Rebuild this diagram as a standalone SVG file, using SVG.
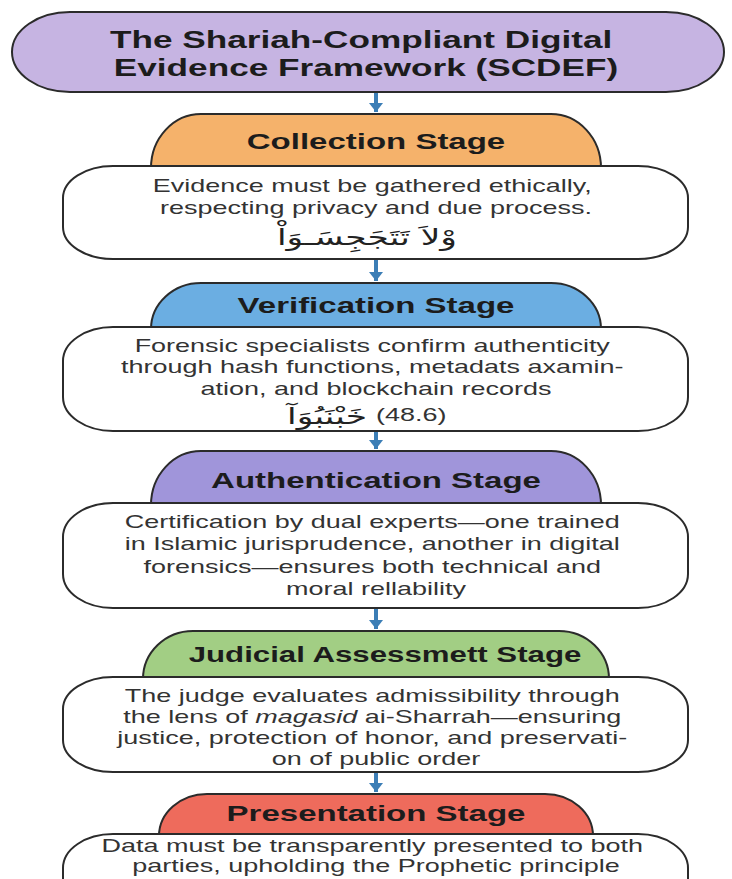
<svg xmlns="http://www.w3.org/2000/svg" width="732" height="879" viewBox="0 0 732 879">
  <defs>
    <marker id="arrowhead" markerUnits="userSpaceOnUse" markerWidth="10" markerHeight="14" refX="9" refY="7" orient="auto">
      <path d="M0,0 L9,7 L0,14 Z" fill="#3c7eb6"/>
    </marker>
    <style>
      .frame { stroke: #2b2b2b; stroke-width: 2; }
      .body { fill: #ffffff; stroke: #2b2b2b; stroke-width: 2; }
      .title { font-family: "Liberation Sans", Arial, sans-serif; font-weight: bold; font-size: 23px; fill: #1c1c1c; text-anchor: middle; }
      .hd { font-family: "Liberation Sans", Arial, sans-serif; font-weight: bold; font-size: 22px; fill: #1c1c1c; text-anchor: middle; }
      .tx { font-family: "Liberation Sans", Arial, sans-serif; font-size: 19px; fill: #333333; text-anchor: middle; }
      .tx.small { font-size: 18px; }
      .ref { font-family: "Liberation Sans", Arial, sans-serif; font-size: 19px; fill: #333333; text-anchor: start; }
      .ar { font-family: "DejaVu Sans", "Noto Sans", sans-serif; font-size: 23px; fill: #222222; }
      .link { stroke: #3c7eb6; stroke-width: 4; fill: none; marker-end: url(#arrowhead); }
    </style>
  </defs>

  <rect width="732" height="879" fill="#ffffff"/>

  <!-- title banner -->
  <g id="title">
    <rect class="frame" x="12" y="12" width="712" height="80" rx="58" ry="40" fill="#c6b4e2"/>
    <text class="title" transform="translate(366 48) scale(1.53 1)">
      <tspan x="0" y="0">The Shariah-Compliant Digital</tspan>
      <tspan x="0" y="28">Evidence Framework (SCDEF)</tspan>
    </text>
  </g>

  <!-- stage 1 -->
  <g id="collection">
    <path class="frame" d="M151,168 A50,54 0 0 1 201,114 H551 A50,54 0 0 1 601,168 Z" fill="#f5b26b"/>
    <text class="hd" transform="translate(376 149) scale(1.5 1)">Collection Stage</text>
    <rect class="body" x="63" y="166" width="625" height="93" rx="50" ry="32"/>
    <text class="tx" transform="translate(376 192) scale(1.42 1)">
      <tspan x="0" y="0">Evidence must be gathered ethically,</tspan>
      <tspan x="0" y="22">respecting privacy and due process.</tspan>
    </text>
    <text class="ar" text-anchor="middle" transform="translate(367 245) scale(1.5 1)">وْلاَ تَتَجَجِسَـوَاْ</text>
  </g>

  <!-- stage 2 -->
  <g id="verification">
    <path class="frame" d="M151,329 A50,46 0 0 1 201,283 H551 A50,46 0 0 1 601,329 Z" fill="#6baee2"/>
    <text class="hd" transform="translate(376 313) scale(1.5 1)">Verification Stage</text>
    <rect class="body" x="63" y="327" width="625" height="104" rx="50" ry="34"/>
    <text class="tx" transform="translate(376 352) scale(1.42 1)">
      <tspan x="0" y="0">Forensic specialists confirm authenticity</tspan>
      <tspan x="0" y="21.5">through hash functions, metadats axamin-</tspan>
      <tspan x="0" y="43">ation, and blockchain records</tspan>
    </text>
    <text class="ar" text-anchor="end" transform="translate(367 424) scale(1.5 1)">خَبْنَبُوَآ</text>
    <text class="ref" transform="translate(376 421) scale(1.42 1)">(48.6)</text>
  </g>

  <!-- stage 3 -->
  <g id="authentication">
    <path class="frame" d="M151,505 A50,54 0 0 1 201,451 H551 A50,54 0 0 1 601,505 Z" fill="#a095da"/>
    <text class="hd" transform="translate(376 488) scale(1.5 1)">Authentication Stage</text>
    <rect class="body" x="63" y="503" width="625" height="105" rx="50" ry="34"/>
    <text class="tx" transform="translate(376 528) scale(1.42 1)">
      <tspan x="0" y="0">Certification by dual experts—one trained</tspan>
      <tspan x="0" y="22.3">in Islamic jurisprudence, another in digital</tspan>
      <tspan x="0" y="44.6">forensics—ensures both technical and</tspan>
      <tspan x="0" y="66.9">moral rellability</tspan>
    </text>
  </g>

  <!-- stage 4 -->
  <g id="judicial">
    <path class="frame" d="M143,679 A50,48 0 0 1 193,631 H559 A50,48 0 0 1 609,679 Z" fill="#a2ce84"/>
    <text class="hd" transform="translate(385 662) scale(1.42 1)">Judicial Assessmett Stage</text>
    <rect class="body" x="63" y="677" width="625" height="95" rx="50" ry="32"/>
    <text class="tx" transform="translate(376 702) scale(1.42 1)">
      <tspan x="0" y="0">The judge evaluates admissibility through</tspan>
      <tspan x="0" y="21">the lens of <tspan font-style="italic">magasid</tspan> ai-Sharrah—ensuring</tspan>
      <tspan x="0" y="42">justice, protection of honor, and preservati-</tspan>
      <tspan x="0" y="63">on of public order</tspan>
    </text>
  </g>

  <!-- stage 5 -->
  <g id="presentation">
    <path class="frame" d="M159,836 A48,42 0 0 1 207,794 H545 A48,42 0 0 1 593,836 Z" fill="#ee6b5c"/>
    <text class="hd" transform="translate(376 821) scale(1.5 1)">Presentation Stage</text>
    <rect class="body" x="63" y="834" width="625" height="110" rx="50" ry="34"/>
    <text class="tx small" transform="translate(376 852) scale(1.5 1)">
      <tspan x="0" y="0">Data must be transparently presented to both</tspan>
      <tspan x="0" y="20.5">parties, upholding the Prophetic principle</tspan>
    </text>
  </g>

  <!-- downward links between stages -->
  <g id="connectors">
    <line class="link" x1="376" y1="93" x2="376" y2="112"/>
    <line class="link" x1="376" y1="260" x2="376" y2="281"/>
    <line class="link" x1="376" y1="432" x2="376" y2="449"/>
    <line class="link" x1="376" y1="609" x2="376" y2="629"/>
    <line class="link" x1="376" y1="773" x2="376" y2="792"/>
  </g>
</svg>
